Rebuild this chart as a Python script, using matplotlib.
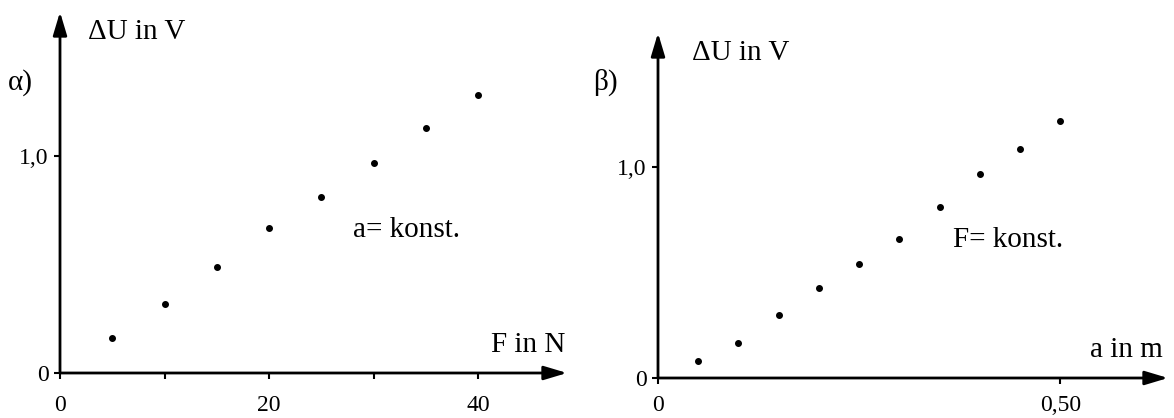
import matplotlib
matplotlib.use("Agg")
import matplotlib.pyplot as plt

# measurement series (alpha: varying force, beta: varying distance)
force_N = [5, 10, 15, 20, 25, 30, 35, 40]
du_force = [0.16, 0.32, 0.49, 0.67, 0.81, 0.97, 1.13, 1.28]

dist_m = [0.05, 0.10, 0.15, 0.20, 0.25, 0.30, 0.35, 0.40, 0.45, 0.50]
du_dist = [0.08, 0.165, 0.30, 0.425, 0.54, 0.66, 0.81, 0.965, 1.085, 1.22]

left_xticks = [0, 10, 20, 30, 40]
left_xlabels = ["0", "", "20", "", "40"]
right_xticks = [0, 0.5]
right_xlabels = ["0", "0,50"]
yticks = [0, 1.0]
ylabels = ["0", "1,0"]

plt.rcParams["font.family"] = ["Liberation Serif", "DejaVu Serif"]

W, H = 1174, 418
fig = plt.figure(figsize=(W / 100, H / 100), dpi=100)


def px_axes(x0, y_top, x1, y_bottom):
    # axes rectangle given in pixel coordinates measured from the top-left
    return fig.add_axes([x0 / W, 1 - y_bottom / H, (x1 - x0) / W, (y_bottom - y_top) / H])


def arrow_axes(ax, xmax, ymax, xpad):
    for s in ax.spines.values():
        s.set_visible(False)
    kw = dict(arrowstyle="-|>,head_length=1.0,head_width=0.3", lw=2.0,
              color="black", shrinkA=0, shrinkB=0, mutation_scale=14)
    ax.annotate("", xy=(xmax, 0), xytext=(0, 0), arrowprops=kw, annotation_clip=False)
    ax.annotate("", xy=(0, ymax), xytext=(0, 0), arrowprops=kw, annotation_clip=False)
    ax.tick_params(axis="x", direction="out", length=4, width=1.5, pad=xpad, labelsize=17)
    ax.tick_params(axis="y", direction="out", length=4, width=1.5, pad=4, labelsize=17)
    ax.set_yticks(yticks, ylabels)
    ax.patch.set_visible(False)


# panel alpha
ax1 = px_axes(60, 12, 567, 373)
ax1.set_xlim(0, 48.5)
ax1.set_ylim(0, 1.664)
arrow_axes(ax1, 48.5, 1.664, 12)
ax1.set_xticks(left_xticks, left_xlabels)
ax1.plot(force_N, du_force, "o", color="black", ms=4, clip_on=False)
ax1.text(2.7, 1.57, "ΔU in V", fontsize=21, ha="left", va="center")
ax1.text(-5.0, 1.34, "α)", fontsize=21, ha="left", va="center")
ax1.text(48.3, 0.13, "F in N", fontsize=21, ha="right", va="center")
ax1.text(28.0, 0.66, "a= konst.", fontsize=21, ha="left", va="center")

# panel beta
ax2 = px_axes(658, 33, 1168, 378)
ax2.set_xlim(0, 0.634)
ax2.set_ylim(0, 1.635)
arrow_axes(ax2, 0.634, 1.635, 8)
ax2.set_xticks(right_xticks, right_xlabels)
ax2.plot(dist_m, du_dist, "o", color="black", ms=4, clip_on=False)
ax2.text(0.042, 1.54, "ΔU in V", fontsize=21, ha="left", va="center")
ax2.text(-0.081, 1.40, "β)", fontsize=21, ha="left", va="center")
ax2.text(0.627, 0.133, "a in m", fontsize=21, ha="right", va="center")
ax2.text(0.367, 0.654, "F= konst.", fontsize=21, ha="left", va="center")

fig.savefig("out.png", dpi=100)
